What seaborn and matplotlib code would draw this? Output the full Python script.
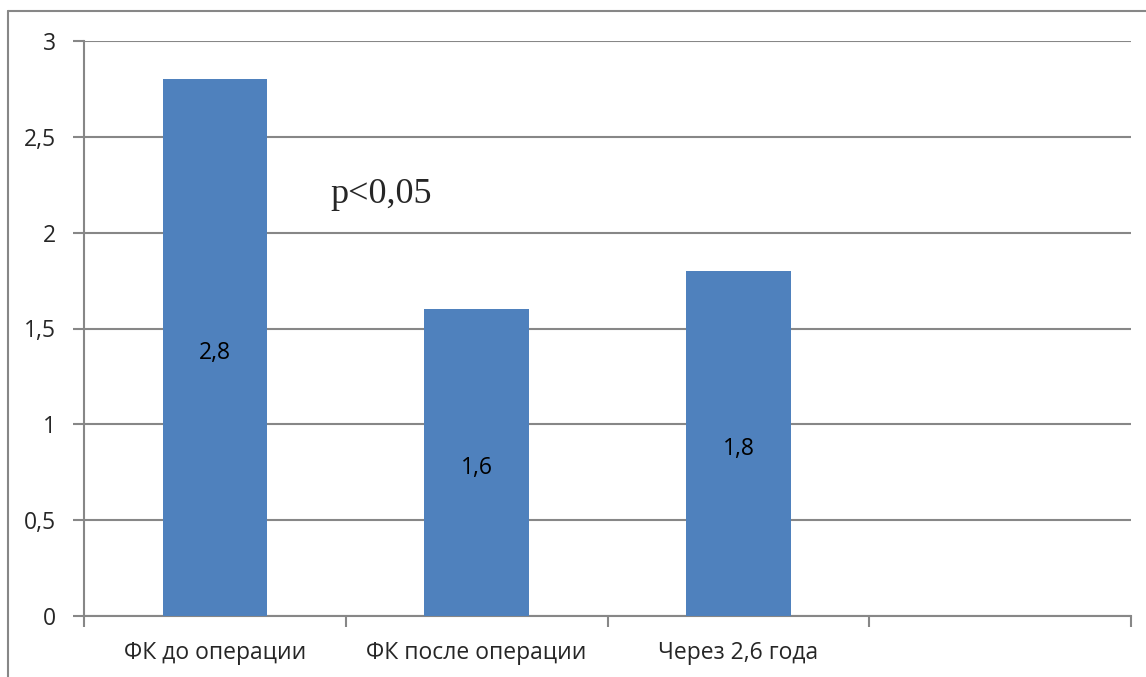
import matplotlib.pyplot as plt
import pandas as pd
import seaborn as sns
from matplotlib.lines import Line2D

categories = ["ФК до операции", "ФК после операции", "Через 2,6 года", ""]
values = [2.8, 1.6, 1.8, 0.0]
value_labels = ["2,8", "1,6", "1,8", ""]
y_ticks = [0, 0.5, 1, 1.5, 2, 2.5, 3]
y_tick_labels = ["0", "0,5", "1", "1,5", "2", "2,5", "3"]

df = pd.DataFrame({"category": categories, "value": values})

sns.set_style("white")
plt.rcParams["font.family"] = ["Open Sans", "DejaVu Sans"]

grid_color = "#878787"
bar_color = "#4F81BD"
fs = 16.5

fig = plt.figure(figsize=(11.46, 6.77), dpi=100)
ax = fig.add_axes([84 / 1146, 1 - 616 / 677, (1131 - 84) / 1146, (616 - 41) / 677])

sns.barplot(data=df, x="category", y="value", color=bar_color, width=0.4,
            saturation=1, ax=ax, zorder=3)
for p in ax.patches:
    p.set_edgecolor("none")

ax.set_xlim(-0.5, 3.5)
ax.set_ylim(0, 3)
ax.set_yticks(y_ticks)
ax.set_yticklabels(y_tick_labels, fontsize=fs)
ax.set_xticks([-0.5, 0.5, 1.5, 2.5, 3.5], minor=False)
ax.set_xticklabels([])
ax.set_xticks(range(4), minor=True)
ax.set_xticklabels(categories, minor=True, fontsize=fs)
ax.tick_params(axis="x", which="minor", bottom=True, length=0, pad=18)
ax.tick_params(axis="x", which="major", bottom=True, length=8, width=1.5,
               color=grid_color, direction="out")
ax.tick_params(axis="y", left=True, length=8, width=1.5, color=grid_color,
               direction="out", pad=12)
ax.set_xlabel("")
ax.set_ylabel("")

ax.grid(axis="y", color=grid_color, linewidth=1.5, zorder=0)
ax.set_axisbelow(True)
for side in ["top", "right"]:
    ax.spines[side].set_visible(False)
for side in ["left", "bottom"]:
    ax.spines[side].set_color(grid_color)
    ax.spines[side].set_linewidth(1.5)

for i, (v, lab) in enumerate(zip(values, value_labels)):
    if lab:
        ax.text(i, v / 2 - 0.03, lab, ha="center", va="center", fontsize=fs,
                color="black", zorder=4)

ax.text(0.44, 2.155, "p<0,05", fontsize=26, family=["Liberation Serif"],
        ha="left", va="baseline")

# outer chart border (left and top edges visible)
fig.add_artist(Line2D([8 / 1146, 8 / 1146], [0, 1 - 11 / 677], color=grid_color, lw=1.5))
fig.add_artist(Line2D([8 / 1146, 1], [1 - 11 / 677, 1 - 11 / 677], color=grid_color, lw=1.5))

fig.savefig("out.png", dpi=100)
plt.close(fig)
